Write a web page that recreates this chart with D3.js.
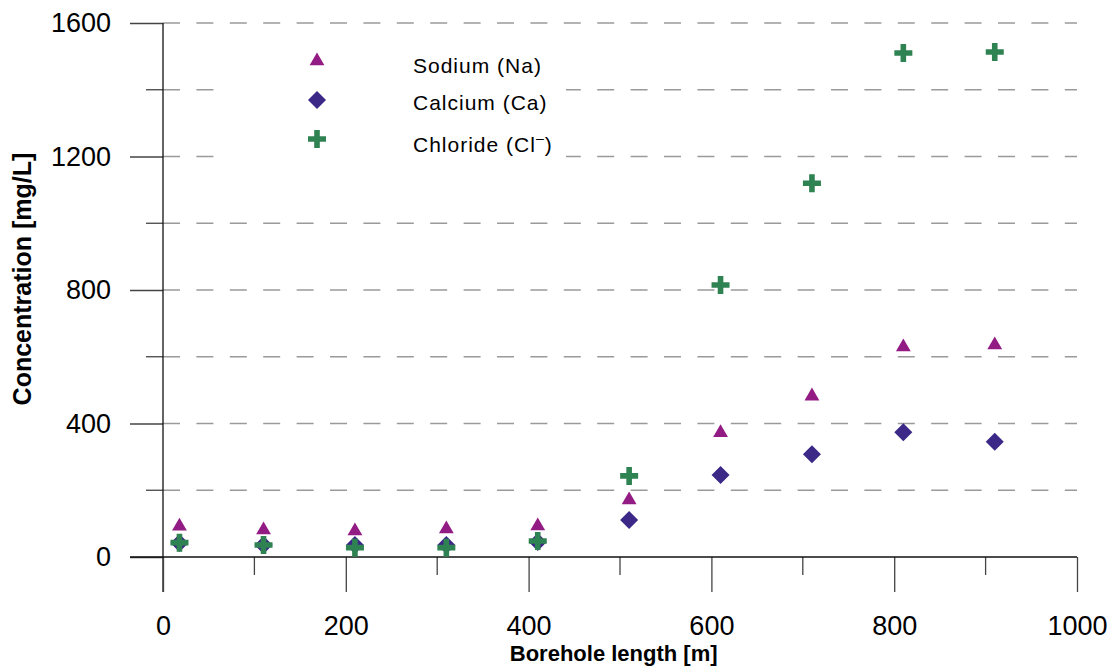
<!DOCTYPE html>
<html><head><meta charset="utf-8">
<script src="https://cdn.jsdelivr.net/npm/d3@7"></script>
<style>body{margin:0;background:#fff}svg{display:block}text{font-family:"Liberation Sans",Arial,sans-serif}</style>
</head><body>
<svg id="c" width="1116" height="672"></svg>
<script>
const depth = [18, 110, 210, 310, 410, 510, 610, 710, 810, 910];
const sodium = [95, 84, 81, 87, 96, 174, 375, 485, 632, 638];
const calcium = [42, 36, 36, 36, 45, 111, 246, 308, 374, 345];
const chloride = [43, 36, 28, 28, 48, 243, 815, 1120, 1510, 1513];
const xTicks = [0, 200, 400, 600, 800, 1000];
const yTicks = [0, 400, 800, 1200, 1600];
const seriesNames = ["Sodium (Na)", "Calcium (Ca)", "Chloride (Cl"];
const colors = ["#921c83", "#3c2886", "#2f8251"];

const svg = d3.select("#c");
const x = d3.scaleLinear().domain([0, 1000]).range([163, 1077]);
const y = d3.scaleLinear().domain([0, 1600]).range([557, 23]);

// gridlines every 200
const grid = d3.range(200, 1601, 200);
svg.append("g").selectAll("line").data(grid).join("line")
  .attr("x1", x(0)).attr("x2", x(1000)).attr("y1", d => y(d)).attr("y2", d => y(d))
  .attr("stroke", "#9a9a9a").attr("stroke-width", 1.3).attr("stroke-dasharray", "17,16.4");

// legend background hides grid
svg.append("rect").attr("x", 216).attr("y", 32).attr("width", 350).attr("height", 138).attr("fill", "#fff");

// y axis
const yAxis = d3.axisLeft(y).tickValues(yTicks).tickSize(33).tickPadding(19).tickFormat(d3.format("d"));
const gy = svg.append("g").attr("transform", `translate(${x(0)},0)`).call(yAxis);
gy.select(".domain").remove();
gy.selectAll(".tick line").attr("stroke", "#444").attr("stroke-width", 1.3);
gy.selectAll(".tick text").attr("font-size", 27).attr("fill", "#000").attr("font-family", "Liberation Sans, Arial, sans-serif");
// minor y ticks
svg.append("g").selectAll("line").data(d3.range(200, 1601, 400)).join("line")
  .attr("x1", x(0) - 17).attr("x2", x(0)).attr("y1", d => y(d)).attr("y2", d => y(d))
  .attr("stroke", "#444").attr("stroke-width", 1.3);
svg.append("line").attr("x1", x(0)).attr("x2", x(0)).attr("y1", y(1600)).attr("y2", 592)
  .attr("stroke", "#111").attr("stroke-width", 1.3);

// x axis at y=0
const xAxis = d3.axisBottom(x).tickValues(xTicks).tickSize(35).tickPadding(24).tickFormat(d3.format("d"));
const gx = svg.append("g").attr("transform", `translate(0,${y(0)})`).call(xAxis);
gx.select(".domain").remove();
gx.selectAll(".tick line").attr("stroke", "#444").attr("stroke-width", 1.3);
gx.selectAll(".tick text").attr("font-size", 27).attr("fill", "#000").attr("font-family", "Liberation Sans, Arial, sans-serif");
svg.append("g").selectAll("line").data(d3.range(100, 1000, 200)).join("line")
  .attr("x1", d => x(d)).attr("x2", d => x(d)).attr("y1", y(0)).attr("y2", y(0) + 18)
  .attr("stroke", "#444").attr("stroke-width", 1.3);
svg.append("line").attr("x1", x(0) - 33).attr("x2", x(1000)).attr("y1", y(0)).attr("y2", y(0))
  .attr("stroke", "#111").attr("stroke-width", 1.3);

// axis titles
svg.append("text").attr("x", 613.7).attr("y", 661).attr("text-anchor", "middle")
  .attr("font-size", 22).attr("font-weight", "bold").text("Borehole length [m]");
svg.append("text").attr("transform", "translate(31,279) rotate(-90)").attr("text-anchor", "middle")
  .attr("font-size", 25).attr("font-weight", "bold").text("Concentration [mg/L]");

// markers
const tri = d3.symbol().type(d3.symbolTriangle).size(95);
const dia = "M0,-9L9,0L0,9L-9,0Z";
const plus = "M-2.8,-9H2.8V-2.8H9V2.8H2.8V9H-2.8V2.8H-9V-2.8H-2.8Z";
const shapes = [tri(), dia, plus];
const data = [sodium, calcium, chloride];

data.forEach((vals, i) => {
  svg.append("g").selectAll("path").data(vals).join("path")
    .attr("d", shapes[i])
    .attr("transform", (d, j) => `translate(${x(depth[j])},${y(d) + (i === 0 ? 1 : 0)})`)
    .attr("fill", colors[i]);
});

// legend
const ly = [61, 100, 139];
const ty = [73, 110, 152];
seriesNames.forEach((n, i) => {
  svg.append("path").attr("d", shapes[i]).attr("transform", `translate(317,${ly[i]})`).attr("fill", colors[i]);
  const t = svg.append("text").attr("x", 413).attr("y", ty[i]).attr("font-size", 21)
    .attr("letter-spacing", 1).attr("fill", "#000").text(n);
  if (i === 2) {
    t.append("tspan").attr("dy", -9).attr("font-size", 14).text("\u2013");
    t.append("tspan").attr("dy", 9).text(")");
  }
});
</script>
</body></html>
